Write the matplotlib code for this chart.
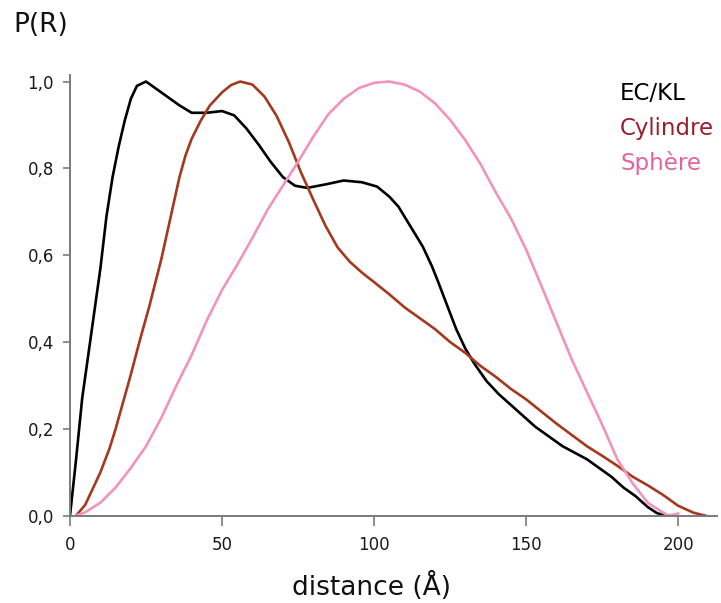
import matplotlib.pyplot as plt
from matplotlib.ticker import FuncFormatter

plt.rcParams['font.family'] = ['DejaVu Sans']

# EC/KL
x_eckl = [0, 2, 4, 6, 8, 10, 12, 14, 16, 18, 20, 22, 25, 28, 32, 36, 40, 45, 50, 54,
          58, 62, 66, 70, 74, 78, 84, 90, 96, 101, 105, 108, 112, 116, 119, 121, 124,
          127, 130, 133, 137, 141, 145, 149, 153, 157, 162, 166, 170, 174, 178, 182,
          186, 190, 193, 196]
y_eckl = [0.0, 0.13, 0.27, 0.37, 0.47, 0.57, 0.69, 0.78, 0.85, 0.91, 0.96, 0.99, 1.0,
          0.985, 0.965, 0.945, 0.928, 0.928, 0.932, 0.922, 0.892, 0.855, 0.815, 0.78,
          0.76, 0.755, 0.763, 0.772, 0.768, 0.758, 0.735, 0.712, 0.666, 0.62, 0.575,
          0.54, 0.485, 0.43, 0.385, 0.35, 0.31, 0.28, 0.255, 0.23, 0.205, 0.185, 0.16,
          0.145, 0.13, 0.11, 0.09, 0.065, 0.045, 0.02, 0.006, 0.0]

# Cylindre
x_cyl = [2, 5, 8, 10, 13, 15, 18, 20, 23, 26, 30, 33, 36, 38, 40, 43, 46, 50, 53, 56,
         60, 64, 68, 72, 76, 80, 84, 88, 92, 96, 100, 105, 110, 115, 120, 125, 130, 135,
         140, 145, 150, 155, 160, 165, 170, 175, 180, 185, 190, 195, 200, 205, 209]
y_cyl = [0.0, 0.025, 0.07, 0.1, 0.155, 0.2, 0.275, 0.325, 0.405, 0.48, 0.59, 0.685,
         0.78, 0.83, 0.868, 0.91, 0.945, 0.975, 0.992, 1.0, 0.993, 0.965, 0.92, 0.86,
         0.79, 0.728, 0.668, 0.618, 0.585, 0.56, 0.538, 0.51, 0.48, 0.455, 0.43, 0.4,
         0.375, 0.345, 0.32, 0.292, 0.268, 0.24, 0.212, 0.186, 0.16, 0.138, 0.115, 0.09,
         0.07, 0.048, 0.023, 0.007, 0.0]

# Sphère
x_sph = [2, 5, 10, 15, 20, 25, 30, 35, 40, 45, 50, 55, 60, 65, 70, 75, 80, 85, 90, 95,
         100, 105, 110, 115, 120, 125, 130, 135, 140, 145, 150, 155, 160, 165, 170, 175,
         180, 185, 190, 195, 197, 200]
y_sph = [0.0, 0.008, 0.03, 0.065, 0.11, 0.16, 0.225, 0.3, 0.37, 0.45, 0.52, 0.578, 0.64,
         0.705, 0.76, 0.815, 0.873, 0.925, 0.96, 0.985, 0.997, 1.0, 0.993, 0.977, 0.95,
         0.912, 0.865, 0.81, 0.745, 0.685, 0.613, 0.53, 0.445, 0.36, 0.285, 0.21, 0.13,
         0.075, 0.03, 0.007, 0.0, 0.005]

series = [
    ('EC/KL', x_eckl, y_eckl, 'black', 'black'),
    ('Cylindre', x_cyl, y_cyl, '#a3391f', '#9c1d2c'),
    ('Sphère', x_sph, y_sph, '#f293bd', '#e2639f'),
]

fig = plt.figure(figsize=(7.21, 6.03), dpi=100)
ax = fig.add_axes([0.0971, 0.1448, 0.8974, 0.7308])

for name, xs, ys, lc, tc in series:
    ax.plot(xs, ys, color=lc, lw=1.9)

ax.set_xlim(0, 212.8)
ax.set_ylim(0, 1.015)
ax.set_xticks([0, 50, 100, 150, 200])
ax.set_yticks([0, 0.2, 0.4, 0.6, 0.8, 1.0])
ax.yaxis.set_major_formatter(FuncFormatter(lambda v, p: f'{v:.1f}'.replace('.', ',')))

for s in ['top', 'right']:
    ax.spines[s].set_visible(False)
for s in ['left', 'bottom']:
    ax.spines[s].set_color('#7a7a7a')
    ax.spines[s].set_linewidth(1.4)
ax.tick_params(colors='#7a7a7a', width=1.2, labelcolor='#1a1a1a', labelsize=12)
ax.tick_params(axis='x', length=7.5, pad=7)
ax.tick_params(axis='y', length=5, pad=6.5)

fig.text(13 / 721, 1 - 32 / 603, 'P(R)', fontsize=19, color='#111111', va='baseline')
fig.text(372 / 721, 1 - 595 / 603, 'distance (Å)', fontsize=19, ha='center',
         va='baseline', color='#111111')

for i, (name, xs, ys, lc, tc) in enumerate(series):
    fig.text(620 / 721, 1 - (100 + 35 * i) / 603, name, fontsize=16.5, color=tc,
             va='baseline')

fig.savefig('out.png', dpi=100, facecolor='white')
